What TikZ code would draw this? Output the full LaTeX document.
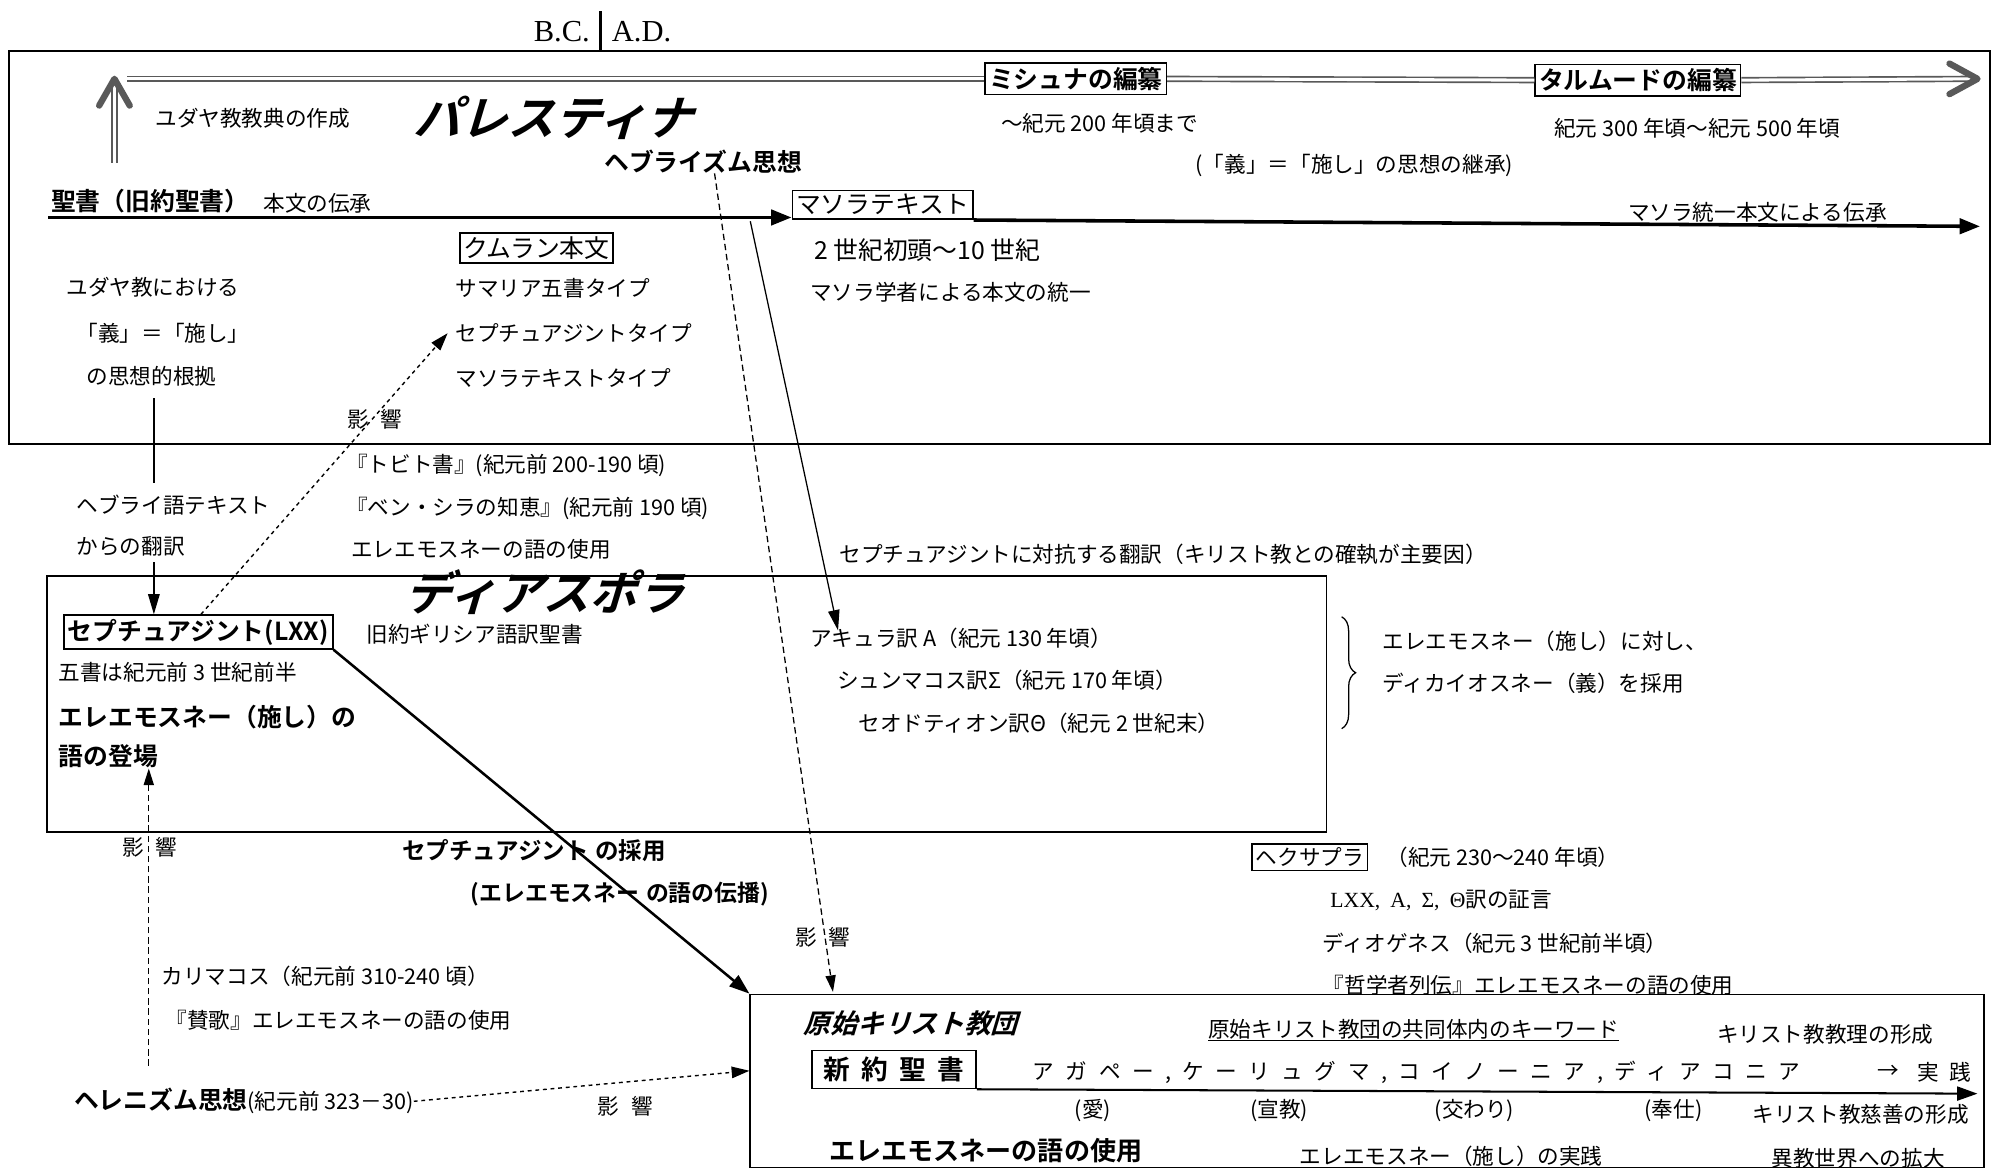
\documentclass[tikz,border=0pt]{standalone}
\usepackage{fontspec}
\setmainfont{Noto Sans CJK JP}[BoldFont={Noto Sans CJK JP Bold}]
\newfontfamily\jpsl{Noto Sans CJK JP}[BoldFont={Noto Sans CJK JP Bold},FakeSlant=0.3]
\newfontfamily\jpwide{Noto Sans CJK JP}[LetterSpace=53]
\newfontfamily\lserif{Liberation Serif}
\usetikzlibrary{arrows.meta,decorations.pathreplacing}
\begin{document}
\begin{tikzpicture}[x=1pt,y=-1pt,
  txt/.style={anchor=west, inner sep=0pt, font=\fontsize{17}{17}\selectfont},
  txtm/.style={anchor=west, inner sep=0pt, font=\fontsize{19.5}{19.5}\selectfont},
  txtb/.style={anchor=west, inner sep=0pt, font=\fontsize{19.5}{19.5}\selectfont\bfseries},
  ttl/.style={anchor=west, inner sep=0pt, font=\jpsl\fontsize{37}{37}\selectfont\bfseries},
  lbox/.style={draw, line width=1.2pt, fill=white, inner sep=3pt},
  frame/.style={draw, line width=1.3pt, inner sep=0pt},
  heavy/.style={line width=2.8pt, -{Triangle[length=16pt,width=12pt]}},
  medarr/.style={line width=2pt, -{Triangle[length=16pt,width=11pt]}},
  thinarr/.style={line width=1pt, -{Triangle[length=16pt,width=9pt]}},
  dasharr/.style={line width=1pt, dash pattern=on 5pt off 3pt, -{Triangle[length=13pt,width=8pt]}},
  dotarr/.style={line width=1.1pt, dash pattern=on 3pt off 3pt, -{Triangle[length=14pt,width=9pt]}},
  dbl/.style={double, double distance=2.4pt, line width=1.3pt, draw=black!65},
  chev/.style={line width=5pt, draw=black!65, line cap=round, line join=round},
]
\fill[white] (0,0) rectangle (1568,922);
\useasboundingbox (0,0) rectangle (1568,922);

% B.C. / A.D.
\node[anchor=east, inner sep=0pt, font=\lserif\fontsize{24}{24}\selectfont] (bc) at (464,25) {B.C.};
\node[anchor=west, inner sep=0pt, font=\lserif\fontsize{24}{24}\selectfont] (ad) at (481,25) {A.D.};
\coordinate (eraTop) at (472,9);
\coordinate (eraBot) at (472,40);
\draw[line width=2.2pt] (eraTop) -- (eraBot);

% region frames
\node[frame, minimum width=1558pt, minimum height=309pt] (pal) at (786,194.5) {};
\node[frame, minimum width=1006pt, minimum height=201pt] (dia) at (540,553.5) {};
\node[frame, minimum width=970pt, minimum height=136pt] (xbox) at (1075,850) {};

% Palestine
\node[lbox, font=\fontsize{19.5}{19.5}\selectfont\bfseries] (mishna) at (846,62) {ミシュナの編纂};
\node[lbox, font=\fontsize{19.5}{19.5}\selectfont\bfseries] (talmud) at (1288,63) {タルムードの編纂};
\coordinate (dstart) at (100,62);
\coordinate (dend) at (1553,62);
\draw[dbl] (dstart) -- (mishna.west);
\draw[dbl] (mishna.east) -- (talmud.west);
\draw[dbl] (talmud.east) -- (dend);
\draw[chev] (1533,50) -- (1555,62) -- (1533,74);
\coordinate (ubot) at (90,128);
\coordinate (utop) at (90,66);
\draw[dbl] (ubot) -- (utop);
\draw[chev] (78,83) -- (90,62) -- (102,83);

\node[txt] (mtime) at (787,97) {〜紀元 200 年頃まで};
\node[txt] (ttime) at (1222,101) {紀元 300 年頃〜紀元 500 年頃};
\node[txt] (keisho) at (940,130) {(「義」＝「施し」の思想の継承)};
\node[txt] (kyoten) at (122,93) {ユダヤ教教典の作成};
\node[ttl] (palname) at (325,93) {パレスティナ};
\node[txtb] (hebr) at (475,127) {ヘブライズム思想};
\node[txtb] (seisho) at (40,158) {聖書（旧約聖書）};
\node[txt] (denso) at (207,160) {本文の伝承};
\node[lbox, font=\fontsize{19.5}{19.5}\selectfont] (maso) at (694,161) {マソラテキスト};
\coordinate (bstart) at (38,171);
\draw[heavy] (bstart) -- (bstart -| maso.west);
\coordinate (mend) at (1557,178);
\draw[heavy] ([yshift=-12pt]maso.east) -- (mend);
\node[txt] (masoden) at (1280,167) {マソラ統一本文による伝承};
\node[lbox, font=\fontsize{19.5}{19.5}\selectfont] (qumran) at (422,195) {クムラン本文};
\node[txt] (samaria) at (358,227) {サマリア五書タイプ};
\node[txt] (septype) at (358,262) {セプチュアジントタイプ};
\node[txt] (masotype) at (358,297) {マソラテキストタイプ};
\node[txtm] (century) at (640,197) {2 世紀初頭〜10 世紀};
\node[txt] (toitsu) at (637,230) {マソラ学者による本文の統一};
\node[txt] (root1) at (52,226) {ユダヤ教における};
\node[txt] (root2) at (60,262) {「義」＝「施し」};
\node[txt] (root3) at (68,296) {の思想的根拠};
\coordinate (rA) at (121,313);
\coordinate (rB) at (121,380);
\draw[line width=1.5pt] (rA) -- (rB);
\node[txt] (eikyo1) at (273,330) {影\hspace{9pt}響};

% between Palestine and Diaspora
\node[txt] (tobit) at (272,366) {『トビト書』(紀元前 200-190 頃)};
\node[txt] (sira) at (272,400) {『ベン・シラの知恵』(紀元前 190 頃)};
\node[txt] (eleuse1) at (276,432) {エレエモスネーの語の使用};
\node[txt] (hebtext) at (60,397) {ヘブライ語テキスト};
\node[txt] (honyaku) at (60,430) {からの翻訳};
\node[txt] (taiko) at (660,436) {セプチュアジントに対抗する翻訳（キリスト教との確執が主要因）};

% Diaspora
\node[ttl] (dianame) at (318,466) {ディアスポラ};
\node[lbox, font=\fontsize{19.5}{19.5}\selectfont\bfseries] (lxx) at (156,497) {セプチュアジント(LXX)};
\coordinate (rC) at (121,442);
\draw[thinarr, line width=1.5pt] (rC) -- (rC |- lxx.north);
\node[txt] (kyuyaku) at (288,499) {旧約ギリシア語訳聖書};
\node[txt] (gosho) at (46,529) {五書は紀元前 3 世紀前半};
\node[txtb] (tojo1) at (46,564) {エレエモスネー（施し）の};
\node[txtb] (tojo2) at (46,595) {語の登場};
\node[txt] (aquila) at (637,502) {アキュラ訳 A（紀元 130 年頃）};
\node[txt] (symm) at (658,535) {シュンマコス訳Σ（紀元 170 年頃）};
\node[txt] (theod) at (675,569) {セオドティオン訳Θ（紀元 2 世紀末）};
\coordinate (brTop) at (1055,485);
\coordinate (brBot) at (1055,573);
\draw[line width=1pt, decorate, decoration={brace, amplitude=11pt}] (brTop) -- (brBot);
\node[txt] (dikai1) at (1087,504) {エレエモスネー（施し）に対し、};
\node[txt] (dikai2) at (1087,537) {ディカイオスネー（義）を採用};

% connectors
\draw[dotarr] ([xshift=2pt]lxx.north) -- ([xshift=-6pt]septype.west);
\coordinate (hebEnd) at (655,780);
\draw[dasharr] ([xshift=9pt]hebr.south) -- (hebEnd);
\coordinate (akStart) at (590,174);
\draw[thinarr] (akStart) -- ([xshift=22pt,yshift=-2pt]aquila.north west);
\draw[medarr] (lxx.south east) -- (xbox.north west);

% below Diaspora
\node[txtb, font=\fontsize{18.5}{18.5}\selectfont\bfseries] (saiyo) at (316,669) {セプチュアジント\hspace{5pt}の採用};
\node[txtb, font=\fontsize{18}{18}\selectfont\bfseries] (denpa) at (370,703) {(エレエモスネー\hspace{5pt}の語の伝播)};
\node[txt] (eikyo3) at (625,737) {影\hspace{9pt}響};
\node[txt] (eikyo2) at (96,666) {影\hspace{9pt}響};
\node[lbox, font=\fontsize{17}{17}\selectfont] (hexa) at (1030,674) {ヘクサプラ};
\node[txt] (hexat) at (1090,674) {（紀元 230〜240 年頃）};
\node[txt] (shogen) at (1046,708) {{\lserif LXX,\hspace{8pt}A,\hspace{8pt}Σ,\hspace{8pt}Θ}訳の証言};
\node[txt] (diog) at (1040,742) {ディオゲネス（紀元 3 世紀前半頃）};
\node[txt] (retsu) at (1040,775) {『哲学者列伝』エレエモスネーの語の使用};
\node[txt] (kalli) at (127,768) {カリマコス（紀元前 310-240 頃）};
\node[txt] (sanka) at (130,802) {『賛歌』エレエモスネーの語の使用};
\node[txt] (hell) at (58,866) {{\fontsize{19.5}{19.5}\selectfont\bfseries ヘレニズム思想}(紀元前 323－30)};
\coordinate (hupS) at (117,838);
\draw[dasharr] (hupS) -- (hupS |- tojo2.south);
\draw[dotarr] (hell.east) -- ([yshift=8pt]xbox.west);
\node[txt] (eikyo4) at (470,870) {影\hspace{9pt}響};

% Christian community
\node[ttl, font=\jpsl\fontsize{21}{21}\selectfont\bfseries] (genshi) at (632,805) {原始キリスト教団};
\node[txt] (keyword) at (950,810) {\underline{原始キリスト教団の共同体内のキーワード}};
\node[txt] (kyori) at (1350,813) {キリスト教教理の形成};
\node[lbox, font=\fontsize{21}{21}\selectfont\bfseries, inner xsep=9pt, inner ysep=5pt] (shin) at (703,841) {新\hspace{9pt}約\hspace{9pt}聖\hspace{9pt}書};
\coordinate (kend) at (1555,860);
\draw[line width=1.6pt, -{Triangle[length=16pt,width=11pt]}] (shin.south east) -- (kend);
\node[txt, font=\jpwide\fontsize{17}{17}\selectfont] (kw) at (812,843) {アガペー,ケーリュグマ,コイノーニア,ディアコニア};
\node[txt] (yajirushi) at (1476,843) {→};
\node[txt] (jissen) at (1508,843) {実\hspace{8pt}践};
\node[txt] (ai) at (845,873) {(愛)};
\node[txt] (senkyo) at (983,873) {(宣教)};
\node[txt] (majiwari) at (1128,873) {(交わり)};
\node[txt] (hoshi) at (1293,873) {(奉仕)};
\node[txt] (jizen) at (1378,876) {キリスト教慈善の形成};
\node[txtb, font=\fontsize{20.5}{20.5}\selectfont\bfseries] (eleuse2) at (652,905) {エレエモスネーの語の使用};
\node[txt] (jissen2) at (1022,909) {エレエモスネー（施し）の実践};
\node[txt] (ikyo) at (1393,911) {異教世界への拡大};
\end{tikzpicture}
\end{document}
